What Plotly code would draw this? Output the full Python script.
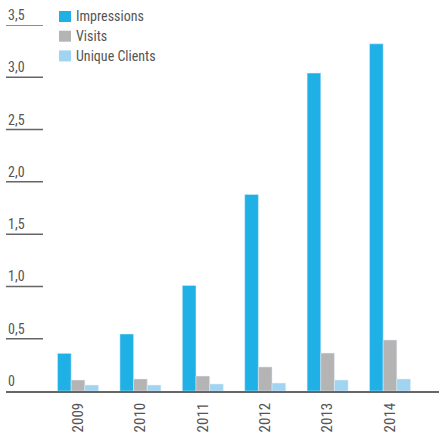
import plotly.graph_objects as go

# Yearly figures (millions)
years = ["2009", "2010", "2011", "2012", "2013", "2014"]
impressions = [0.36, 0.545, 1.01, 1.88, 3.04, 3.32]
visits = [0.105, 0.115, 0.143, 0.23, 0.363, 0.488]
unique_clients = [0.057, 0.057, 0.067, 0.076, 0.105, 0.115]

series_names = ["Impressions", "Visits", "Unique Clients"]
series_colors = ["#1FB0E6", "#B4B4B4", "#A0D4F1"]

y_ticks = [0, 0.5, 1.0, 1.5, 2.0, 2.5, 3.0, 3.5]
y_tick_text = ["0", "0,5", "1,0", "1,5", "2,0", "2,5", "3,0", "3,5"]

FONT = "Liberation Sans Narrow, Roboto Condensed, Arial Narrow, Roboto, sans-serif"
TEXT = "#555555"

W, H = 439, 432
M = dict(l=6, r=0, t=25, b=41)
plot_w = W - M["l"] - M["r"]
plot_h = H - M["t"] - M["b"]

fig = go.Figure()
for name, vals, col in zip(series_names, [impressions, visits, unique_clients], series_colors):
    fig.add_bar(name=name, x=years, y=vals, marker_color=col, showlegend=False)

# Short tick underlines with their value labels on the left
for v, t in zip(y_ticks, y_tick_text):
    if v > 0:
        fig.add_shape(type="line", xref="paper", yref="y", x0=0, x1=37 / plot_w,
                      y0=v, y1=v, line=dict(color="#666666", width=1.5))
    fig.add_annotation(xref="paper", yref="y", x=0, y=v, text=t,
                       showarrow=False, xanchor="left", yanchor="bottom",
                       yshift=0, font=dict(family=FONT, size=14, color=TEXT))

# Compact legend: colour swatch followed closely by the series name
def px_x(px):
    return (px - M["l"]) / plot_w

def px_y(px):
    return 1 - (px - M["t"]) / plot_h

for i, (name, col) in enumerate(zip(series_names, series_colors)):
    top = 11 + 19.7 * i
    fig.add_shape(type="rect", xref="paper", yref="paper",
                  x0=px_x(59), x1=px_x(71), y0=px_y(top + 11), y1=px_y(top),
                  line=dict(width=0), fillcolor=col)
    fig.add_annotation(xref="paper", yref="paper", x=px_x(74), y=px_y(top + 5.5),
                       text=name, showarrow=False, xanchor="left", yanchor="middle",
                       font=dict(family=FONT, size=14, color=TEXT))

fig.update_layout(
    width=W, height=H,
    margin=M,
    paper_bgcolor="white", plot_bgcolor="white",
    barmode="group", bargap=0.343, bargroupgap=0,
    font=dict(family=FONT, size=14, color=TEXT),
    showlegend=False,
    xaxis=dict(type="category", range=[-1.154, 5.785], showgrid=False,
               showline=True, linecolor="#666666", linewidth=1.5,
               ticks="", tickangle=-90, ticklabelstandoff=4,
               tickfont=dict(family=FONT, size=15, color=TEXT)),
    yaxis=dict(range=[0, 3.5], showgrid=False, zeroline=False,
               showticklabels=False, ticks=""),
)

fig.write_html("out.html")
